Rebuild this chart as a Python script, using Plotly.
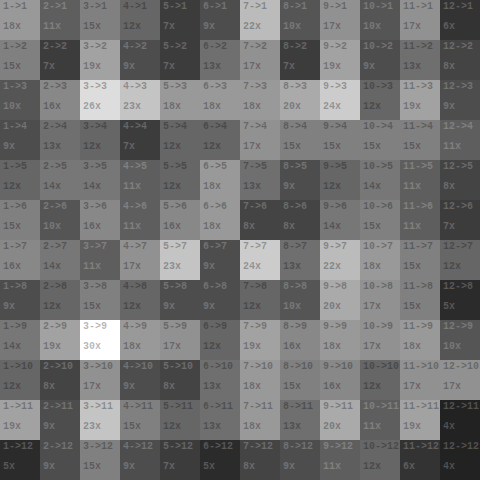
import plotly.graph_objects as go

sources = list(range(1, 13))
targets = list(range(1, 13))

counts_row1 = [18, 11, 15, 12, 7, 9, 22, 10, 17, 10, 17, 6]
counts_row2 = [15, 7, 19, 9, 7, 13, 17, 7, 19, 9, 13, 8]
counts_row3 = [10, 16, 26, 23, 18, 18, 18, 20, 24, 12, 19, 9]
counts_row4 = [9, 13, 12, 7, 12, 12, 17, 15, 15, 15, 15, 11]
counts_row5 = [12, 14, 14, 11, 12, 18, 13, 9, 12, 14, 11, 8]
counts_row6 = [15, 10, 16, 11, 16, 18, 8, 8, 14, 15, 11, 7]
counts_row7 = [16, 14, 11, 17, 23, 9, 24, 13, 22, 18, 15, 12]
counts_row8 = [9, 12, 15, 12, 9, 9, 12, 10, 20, 17, 15, 5]
counts_row9 = [14, 19, 30, 18, 17, 12, 19, 16, 18, 17, 18, 10]
counts_row10 = [12, 8, 17, 9, 8, 13, 18, 15, 16, 12, 17, 17]
counts_row11 = [19, 9, 23, 15, 12, 13, 18, 13, 20, 11, 19, 4]
counts_row12 = [5, 9, 15, 9, 7, 5, 8, 9, 11, 12, 6, 4]

counts = [counts_row1, counts_row2, counts_row3, counts_row4, counts_row5, counts_row6,
          counts_row7, counts_row8, counts_row9, counts_row10, counts_row11, counts_row12]

fig = go.Figure(go.Heatmap(
    z=counts, x=sources, y=targets,
    zmin=0, zmax=30,
    colorscale=[[0, "#000000"], [1, "#ffffff"]],
    showscale=False, hoverinfo="skip", xgap=0, ygap=0,
))

annotations = []
for r, tgt in enumerate(targets):
    for c, src in enumerate(sources):
        v = counts[r][c]
        col = "rgba(255,255,255,0.22)" if v < 12 else "rgba(0,0,0,0.3)"
        annotations.append(dict(
            x=src - 0.5, y=tgt - 0.5, xref="x", yref="y",
            text=f"{src}->{tgt}", showarrow=False, xanchor="left", yanchor="middle",
            xshift=1, yshift=-6,
            font=dict(family="Liberation Mono", size=10, color=col, weight="bold"),
        ))
        annotations.append(dict(
            x=src - 0.5, y=tgt, xref="x", yref="y",
            text=f"{v}x", showarrow=False, xanchor="left", yanchor="middle",
            xshift=1, yshift=-6,
            font=dict(family="Liberation Mono", size=10, color=col, weight="bold"),
        ))

fig.update_layout(
    width=480, height=480,
    margin=dict(l=0, r=0, t=0, b=0),
    paper_bgcolor="white", plot_bgcolor="white",
    annotations=annotations,
    xaxis=dict(visible=False, range=[0.5, 12.5], fixedrange=True),
    yaxis=dict(visible=False, range=[12.5, 0.5], fixedrange=True),
)

fig.write_html("out.html")
